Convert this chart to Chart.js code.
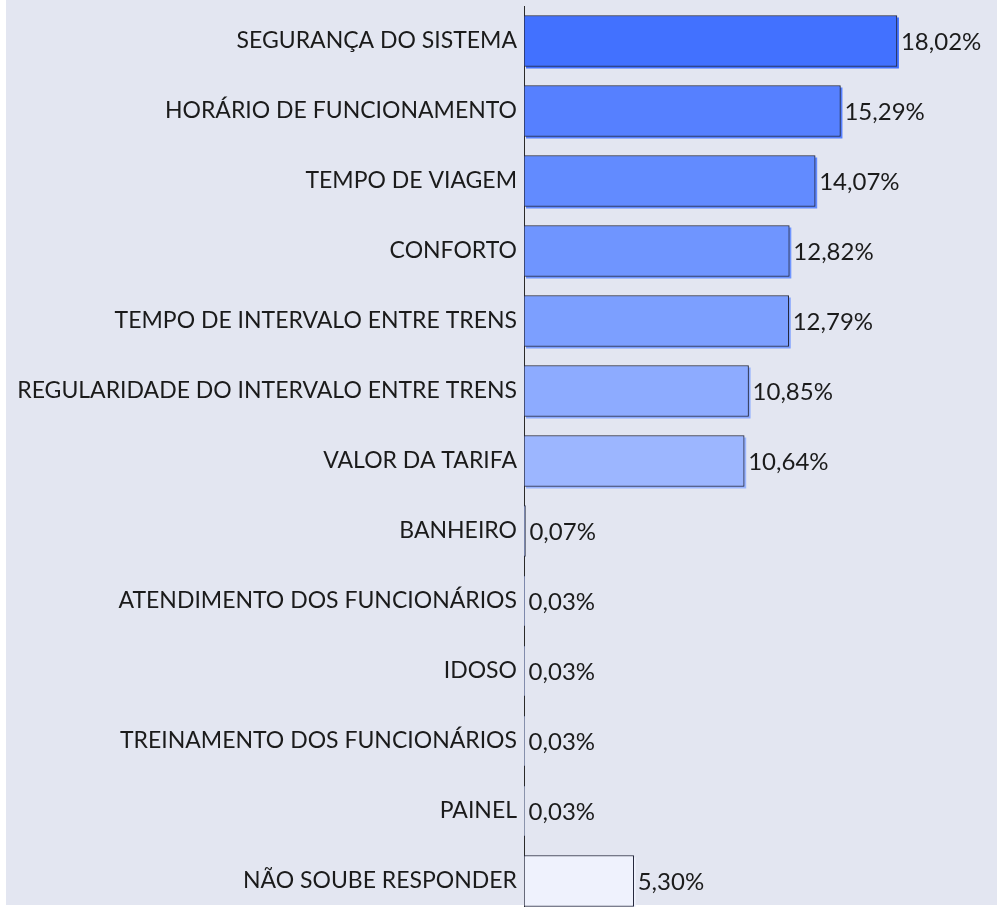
<!DOCTYPE html>
<html>
<head>
<meta charset="utf-8">
<script src="https://cdn.jsdelivr.net/npm/chart.js@4.4.1/dist/chart.umd.min.js"></script>
<style>
  html, body { margin: 0; padding: 0; background: #ffffff; overflow: hidden; }
  #panel { position: absolute; left: 6px; top: 0; width: 991px; height: 905px; background: #E3E6F1; }
  #wrap { position: absolute; left: 0; top: 0; width: 1005px; height: 916px; }
</style>
</head>
<body>
<div id="panel"></div>
<div id="wrap"><canvas id="chart" width="1005" height="916"></canvas></div>
<script>
const categories = [
  'SEGURANÇA DO SISTEMA',
  'HORÁRIO DE FUNCIONAMENTO',
  'TEMPO DE VIAGEM',
  'CONFORTO',
  'TEMPO DE INTERVALO ENTRE TRENS',
  'REGULARIDADE DO INTERVALO ENTRE TRENS',
  'VALOR DA TARIFA',
  'BANHEIRO',
  'ATENDIMENTO DOS FUNCIONÁRIOS',
  'IDOSO',
  'TREINAMENTO DOS FUNCIONÁRIOS',
  'PAINEL',
  'NÃO SOUBE RESPONDER'
];
const percentages = [18.02, 15.29, 14.07, 12.82, 12.79, 10.85, 10.64, 0.07, 0.03, 0.03, 0.03, 0.03, 5.30];
const barColors = [
  '#4271FF', '#5680FF', '#628BFF', '#6F95FF', '#7C9FFF', '#8DABFF', '#9CB6FF',
  '#B0C4FF', '#B8CAFF', '#BED0FF', '#C6D6FF', '#CEDCFF', '#EFF2FD'
];

const fontFamily = 'Lato, "Open Sans", sans-serif';
const textColor = '#1b1b1b';

function formatPct(v) {
  return v.toFixed(2).replace('.', ',') + '%';
}

// offset shadow behind each bar (same hue, shifted down-right)
const barShadow = {
  id: 'barShadow',
  beforeDatasetsDraw(chart) {
    const ctx = chart.ctx;
    const meta = chart.getDatasetMeta(0);
    ctx.save();
    meta.data.forEach((bar, i) => {
      const p = bar.getProps(['x', 'y', 'base', 'height'], true);
      if (p.x - p.base < 2) return;
      ctx.fillStyle = barColors[i];
      ctx.fillRect(p.base + 2, p.y - p.height / 2 + 2, p.x - p.base, p.height);
    });
    ctx.restore();
  }
};

// value label at the end of each bar
const valueLabels = {
  id: 'valueLabels',
  afterDatasetsDraw(chart) {
    const ctx = chart.ctx;
    const meta = chart.getDatasetMeta(0);
    ctx.save();
    ctx.font = '24px ' + fontFamily;
    ctx.fillStyle = textColor;
    ctx.textAlign = 'left';
    ctx.textBaseline = 'middle';
    meta.data.forEach((bar, i) => {
      const p = bar.getProps(['x', 'y'], true);
      ctx.fillText(formatPct(percentages[i]), Math.max(p.x, chart.chartArea.left) + 4, p.y + 1);
    });
    ctx.restore();
  }
};

new Chart(document.getElementById('chart'), {
  type: 'bar',
  data: {
    labels: categories,
    datasets: [{
      data: percentages,
      backgroundColor: barColors,
      borderColor: '#23263a',
      borderWidth: 1,
      borderSkipped: false,
      barThickness: 51
    }]
  },
  options: {
    indexAxis: 'y',
    responsive: false,
    animation: false,
    devicePixelRatio: 1,
    layout: { padding: { top: 6, right: 5, bottom: 0, left: 0 } },
    plugins: { legend: { display: false }, tooltip: { enabled: false } },
    scales: {
      x: {
        display: false,
        min: 0,
        max: 23
      },
      y: {
        grid: { display: false, drawTicks: false },
        border: { display: true, color: '#2a2a2a', width: 1 },
        ticks: {
          color: textColor,
          font: { family: fontFamily, size: 23 },
          padding: 7
        },
        afterFit(scale) {
          scale.width = 524;
          scale.paddingTop = 0;
          scale.paddingBottom = 0;
        }
      }
    }
  },
  plugins: [barShadow, valueLabels]
});
</script>
</body>
</html>
